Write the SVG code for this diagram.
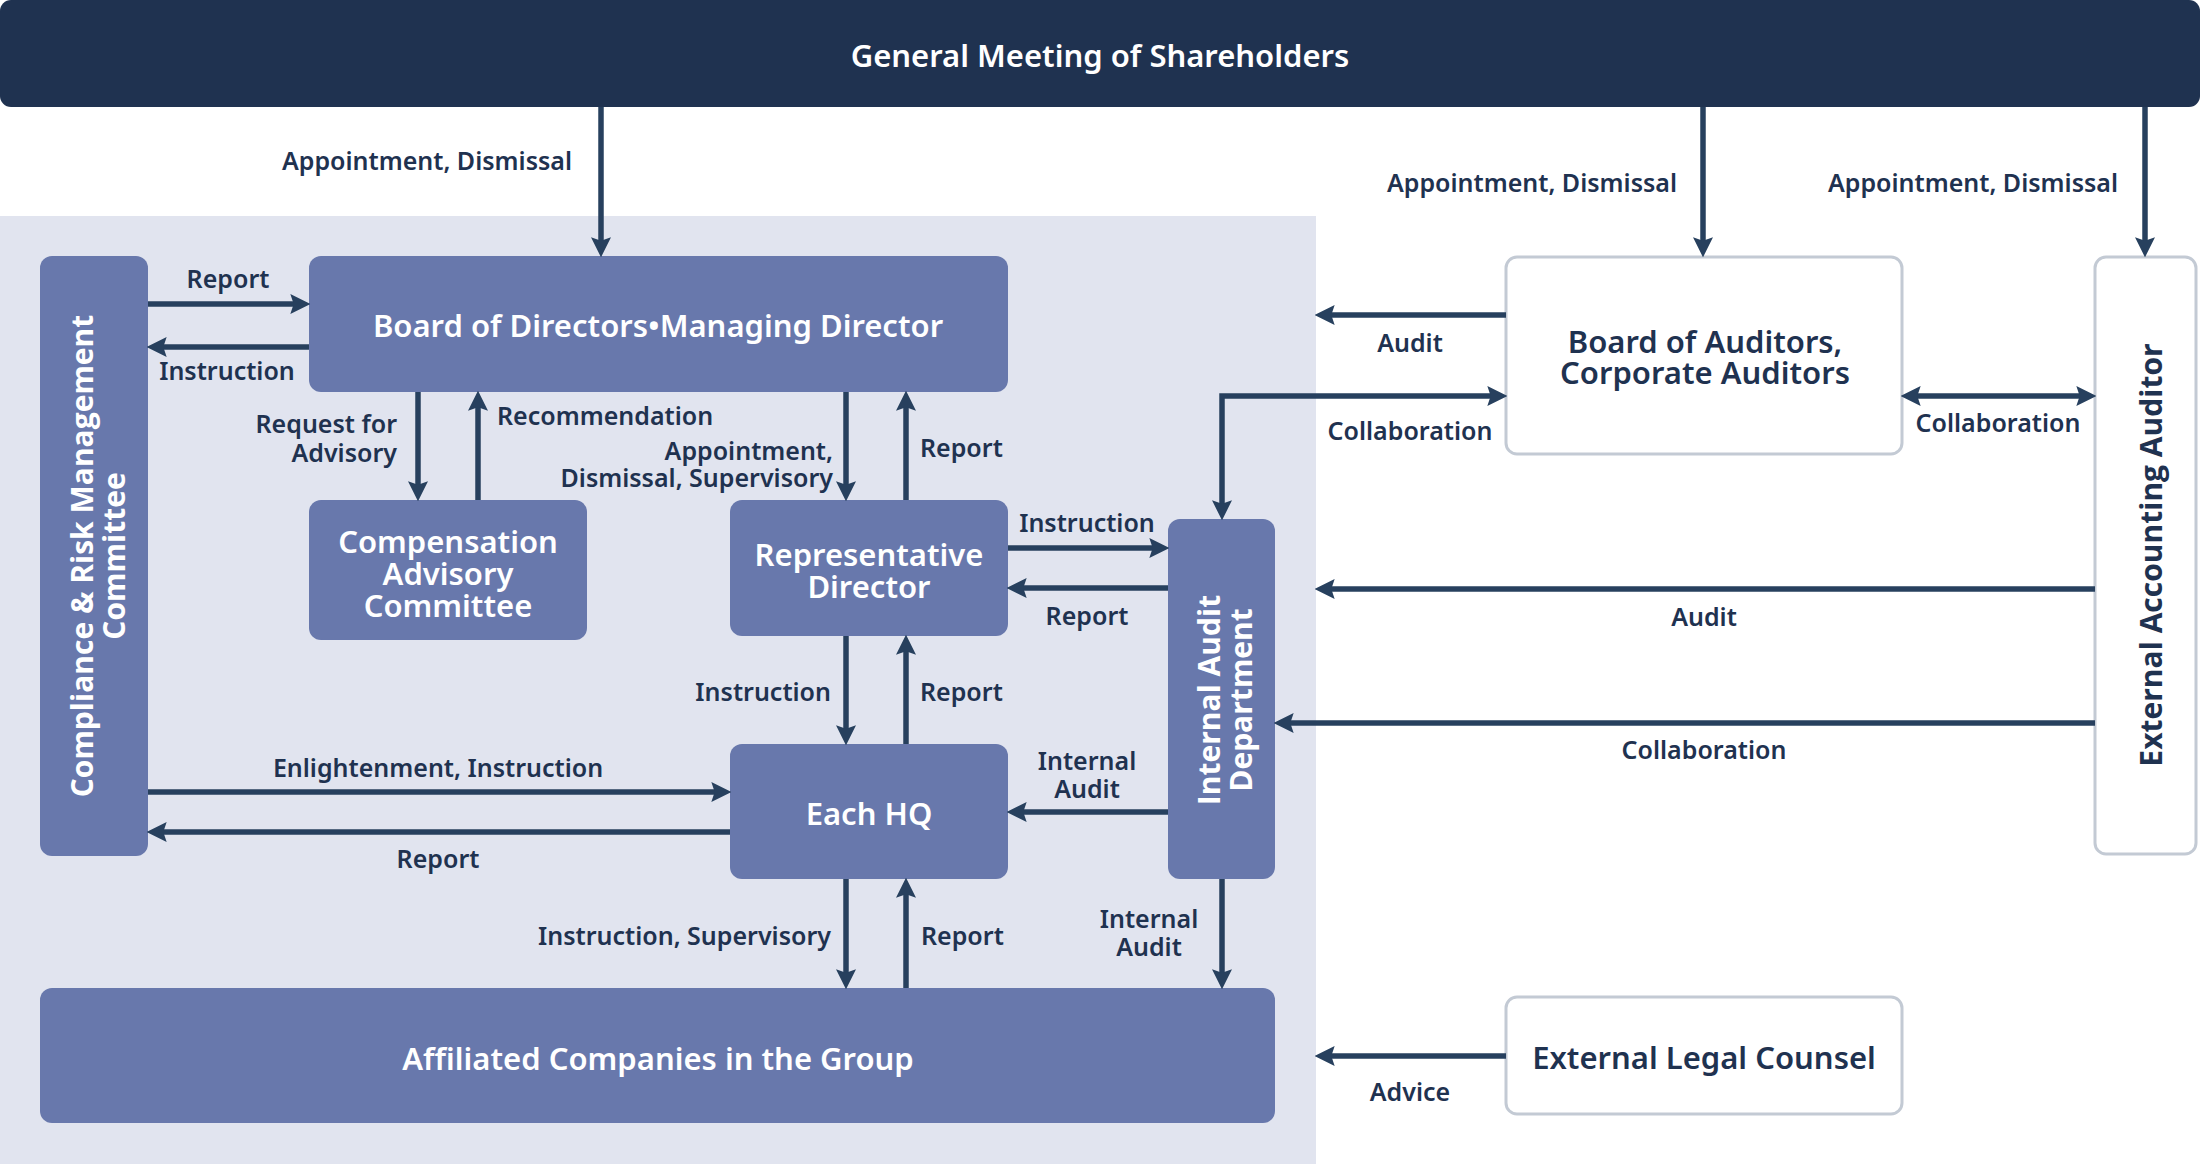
<svg xmlns="http://www.w3.org/2000/svg" width="2200" height="1164" viewBox="0 0 2200 1164">
<defs>
<style>
.lbl{font-family:"Noto Sans","Open Sans","Liberation Sans",sans-serif;font-weight:600;font-size:25px;fill:#1f3250}
.ttl{font-family:"Noto Sans","Open Sans","Liberation Sans",sans-serif;font-weight:600;font-size:31px}
.w{fill:#ffffff}
.d{fill:#1f3250}
.vt{font-family:"Open Sans","Liberation Sans",sans-serif;font-weight:700;font-size:30px}
.node{fill:#6878ac}
.ext{fill:#ffffff;stroke:#c3cad4;stroke-width:3}
.ln{fill:none;stroke:#27405e;stroke-width:5.5;marker-end:url(#ah)}
.bi{fill:none;stroke:#27405e;stroke-width:5.5;marker-start:url(#ah);marker-end:url(#ah)}
</style>
<marker id="ah" markerUnits="userSpaceOnUse" markerWidth="20" markerHeight="20" viewBox="0 0 18 18" refX="6" refY="9" orient="auto-start-reverse">
<path d="M0,0 L18,9 L0,18 L3,9 Z" fill="#27405e"/>
</marker>
</defs>

<rect x="0" y="216" width="1316" height="948" fill="#e1e4ef"/>

<g id="gm">
<rect x="0" y="0" width="2200" height="107" rx="11" fill="#1f3250"/>
<text class="ttl w" x="1100" y="67" text-anchor="middle">General Meeting of Shareholders</text>
</g>

<g id="board">
<rect class="node" x="309" y="256" width="699" height="136" rx="12"/>
<text class="ttl w" x="658" y="337" text-anchor="middle">Board of Directors•Managing Director</text>
</g>

<g id="compliance">
<rect class="node" x="40" y="256" width="108" height="600" rx="12"/>
<text class="vt w" transform="translate(93,556) rotate(-90)" text-anchor="middle">Compliance &amp; Risk Management</text>
<text class="vt w" transform="translate(125,556) rotate(-90)" text-anchor="middle">Committee</text>
</g>

<g id="compensation">
<rect class="node" x="309" y="500" width="278" height="140" rx="12"/>
<text class="ttl w" x="448" y="553" text-anchor="middle">Compensation</text>
<text class="ttl w" x="448" y="585" text-anchor="middle">Advisory</text>
<text class="ttl w" x="448" y="617" text-anchor="middle">Committee</text>
</g>

<g id="rep">
<rect class="node" x="730" y="500" width="278" height="136" rx="12"/>
<text class="ttl w" x="869" y="566" text-anchor="middle">Representative</text>
<text class="ttl w" x="869" y="598" text-anchor="middle">Director</text>
</g>

<g id="hq">
<rect class="node" x="730" y="744" width="278" height="135" rx="12"/>
<text class="ttl w" x="869" y="825" text-anchor="middle">Each HQ</text>
</g>

<g id="affiliated">
<rect class="node" x="40" y="988" width="1235" height="135" rx="12"/>
<text class="ttl w" x="658" y="1070" text-anchor="middle">Affiliated Companies in the Group</text>
</g>

<g id="iad">
<rect class="node" x="1168" y="519" width="107" height="360" rx="12"/>
<text class="vt w" transform="translate(1220,700) rotate(-90)" text-anchor="middle">Internal Audit</text>
<text class="vt w" transform="translate(1252,700) rotate(-90)" text-anchor="middle">Department</text>
</g>

<g id="boa">
<rect class="ext" x="1506" y="257" width="396" height="197" rx="11"/>
<text class="ttl d" x="1705" y="353" text-anchor="middle">Board of Auditors,</text>
<text class="ttl d" x="1705" y="384" text-anchor="middle">Corporate Auditors</text>
</g>

<g id="eaa">
<rect class="ext" x="2095" y="257" width="101" height="597" rx="11"/>
<text class="vt d" transform="translate(2162,555) rotate(-90)" text-anchor="middle">External Accounting Auditor</text>
</g>

<g id="legal">
<rect class="ext" x="1506" y="997" width="396" height="117" rx="11"/>
<text class="ttl d" x="1704" y="1069" text-anchor="middle">External Legal Counsel</text>
</g>

<g id="connectors">
<line class="ln" x1="601" y1="107" x2="601" y2="244"/>
<line class="ln" x1="1703" y1="107" x2="1703" y2="244"/>
<line class="ln" x1="2145" y1="107" x2="2145" y2="244"/>
<line class="ln" x1="148" y1="304" x2="297" y2="304"/>
<line class="ln" x1="309" y1="347" x2="160" y2="347"/>
<line class="ln" x1="418" y1="392" x2="418" y2="488"/>
<line class="ln" x1="478" y1="500" x2="478" y2="404"/>
<line class="ln" x1="846" y1="392" x2="846" y2="488"/>
<line class="ln" x1="906" y1="500" x2="906" y2="404"/>
<line class="ln" x1="846" y1="636" x2="846" y2="732"/>
<line class="ln" x1="906" y1="744" x2="906" y2="648"/>
<line class="ln" x1="148" y1="792" x2="718" y2="792"/>
<line class="ln" x1="730" y1="832" x2="160" y2="832"/>
<line class="ln" x1="846" y1="879" x2="846" y2="976"/>
<line class="ln" x1="906" y1="988" x2="906" y2="891"/>
<line class="ln" x1="1008" y1="548" x2="1156" y2="548"/>
<line class="ln" x1="1168" y1="588" x2="1020" y2="588"/>
<line class="ln" x1="1168" y1="812" x2="1020" y2="812"/>
<line class="ln" x1="1222" y1="879" x2="1222" y2="976"/>
<line class="ln" x1="1506" y1="315" x2="1328" y2="315"/>
<path class="bi" d="M1222,507 L1222,396 L1494,396"/>
<line class="bi" x1="1914" y1="396" x2="2083" y2="396"/>
<line class="ln" x1="2095" y1="589" x2="1328" y2="589"/>
<line class="ln" x1="2095" y1="723" x2="1287" y2="723"/>
<line class="ln" x1="1506" y1="1056" x2="1328" y2="1056"/>

<text class="lbl" x="572" y="170" text-anchor="end">Appointment, Dismissal</text>
<text class="lbl" x="1677" y="192" text-anchor="end">Appointment, Dismissal</text>
<text class="lbl" x="2118" y="192" text-anchor="end">Appointment, Dismissal</text>
<text class="lbl" x="228" y="288" text-anchor="middle">Report</text>
<text class="lbl" x="227" y="380" text-anchor="middle">Instruction</text>
<text class="lbl" x="397" y="433" text-anchor="end">Request for</text>
<text class="lbl" x="397" y="462" text-anchor="end">Advisory</text>
<text class="lbl" x="497" y="425">Recommendation</text>
<text class="lbl" x="833" y="460" text-anchor="end">Appointment,</text>
<text class="lbl" x="833" y="487" text-anchor="end">Dismissal, Supervisory</text>
<text class="lbl" x="920" y="457">Report</text>
<text class="lbl" x="831" y="701" text-anchor="end">Instruction</text>
<text class="lbl" x="920" y="701">Report</text>
<text class="lbl" x="438" y="777" text-anchor="middle">Enlightenment, Instruction</text>
<text class="lbl" x="438" y="868" text-anchor="middle">Report</text>
<text class="lbl" x="831" y="945" text-anchor="end">Instruction, Supervisory</text>
<text class="lbl" x="921" y="945">Report</text>
<text class="lbl" x="1087" y="532" text-anchor="middle">Instruction</text>
<text class="lbl" x="1087" y="625" text-anchor="middle">Report</text>
<text class="lbl" x="1087" y="770" text-anchor="middle">Internal</text>
<text class="lbl" x="1087" y="798" text-anchor="middle">Audit</text>
<text class="lbl" x="1149" y="928" text-anchor="middle">Internal</text>
<text class="lbl" x="1149" y="956" text-anchor="middle">Audit</text>
<text class="lbl" x="1410" y="352" text-anchor="middle">Audit</text>
<text class="lbl" x="1410" y="440" text-anchor="middle">Collaboration</text>
<text class="lbl" x="1998" y="432" text-anchor="middle">Collaboration</text>
<text class="lbl" x="1704" y="626" text-anchor="middle">Audit</text>
<text class="lbl" x="1704" y="759" text-anchor="middle">Collaboration</text>
<text class="lbl" x="1410" y="1101" text-anchor="middle">Advice</text>
</g>
</svg>
